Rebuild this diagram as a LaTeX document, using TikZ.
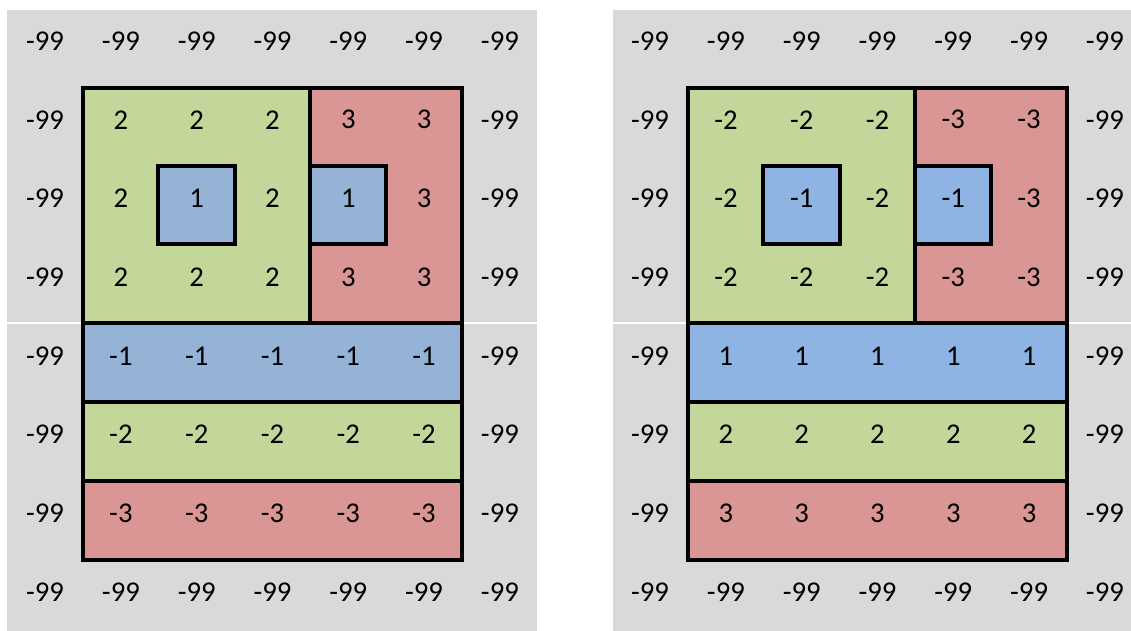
\documentclass[tikz,border=0pt]{standalone}
\usepackage{fontspec}
\setmainfont{Carlito}
\definecolor{sheet}{HTML}{D9D9D9}
\definecolor{olive}{HTML}{C4D79B}
\definecolor{rose}{HTML}{DA9694}
\definecolor{blueL}{HTML}{95B3D7}
\definecolor{blueR}{HTML}{8DB4E2}
\begin{document}
\begin{tikzpicture}[x=0.75pt,y=-0.75pt,
  val/.style={inner sep=0pt,font=\fontsize{21.5}{26}\selectfont},
  region/.style={draw=black,line width=2.6pt},
  frame/.style={draw=black,line width=3pt}]
  \useasboundingbox (0,0) rectangle (1131,631);
  % spreadsheet backgrounds
  \fill[sheet] (7,10) rectangle (537,631);
  \fill[sheet] (613,10) rectangle (1131,631);
  \draw[white,line width=0.8pt] (7,323) -- (537,323);
  \draw[white,line width=0.8pt] (613,323) -- (1131,323);
  \foreach \p/\dx/\s/\blu in {L/0/1/blueL,R/605/-1/blueR}{
    \begin{scope}[shift={(\dx,0)}]
      % coloured regions
      \fill[olive] (83,88) rectangle (310,323);
      \fill[rose] (310,88) rectangle (462,323);
      \draw[region] (83,88) -- (310,88) -- (310,323);
      \draw[region,fill=\blu] (158,166) rectangle (235,244);
      \draw[region,fill=\blu] (310,166) rectangle (386,244);
      \draw[region,fill=\blu] (83,323) rectangle (462,402);
      \draw[region,fill=olive] (83,402) rectangle (462,481);
      \draw[region,fill=rose] (83,481) rectangle (462,560);
      \draw[frame] (83,88) rectangle (462,560);
      % border cells
      \foreach \c in {0,...,6}{
        \node[val] (\p-0-\c) at ({45.1+75.8*\c},41) {-99};
        \node[val] (\p-7-\c) at ({45.1+75.8*\c},592) {-99};
      }
      \foreach \r in {1,...,6}{
        \node[val] (\p-\r-0) at (45.1,{41+78.7*\r}) {-99};
        \node[val] (\p-\r-6) at (499.9,{41+78.7*\r}) {-99};
      }
      % inner values
      \foreach \r/\vals in {1/{2,2,2,3,3},2/{2,1,2,1,3},3/{2,2,2,3,3},
                            4/{-1,-1,-1,-1,-1},5/{-2,-2,-2,-2,-2},6/{-3,-3,-3,-3,-3}}{
        \foreach \v [count=\c] in \vals{
          \pgfmathtruncatemacro{\w}{\s*\v}
          \node[val] (\p-\r-\c) at ({45.1+75.8*\c},{41+78.7*\r}) {\w};
        }
      }
    \end{scope}
  }
\end{tikzpicture}
\end{document}
